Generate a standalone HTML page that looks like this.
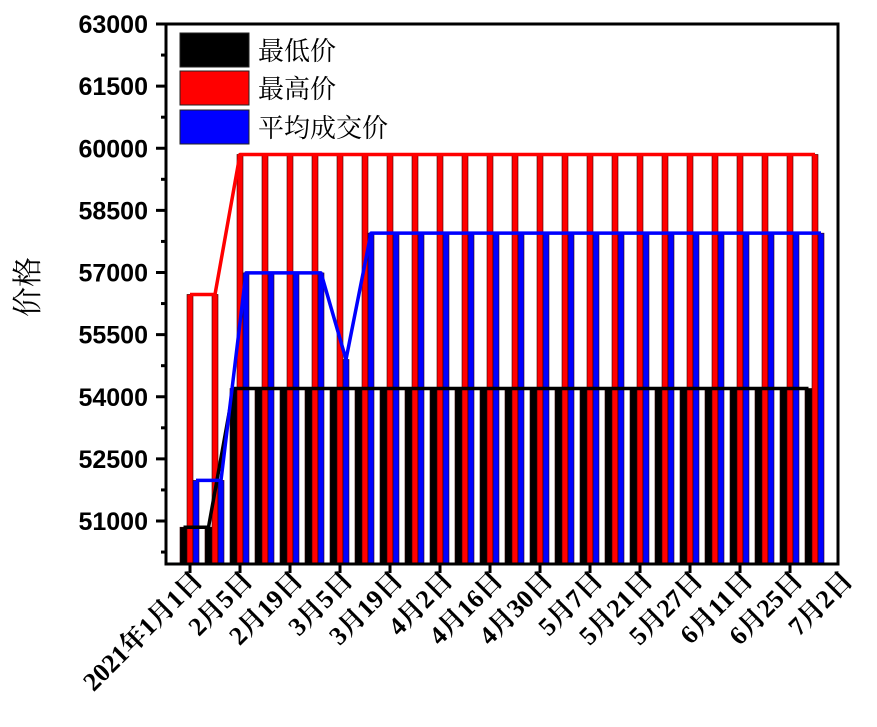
<!DOCTYPE html>
<html><head><meta charset="utf-8"><style>
html,body{margin:0;padding:0;background:#fff;}
svg{display:block;}
</style></head><body>
<svg id="chart" width="877" height="727" viewBox="0 0 877 727" xmlns="http://www.w3.org/2000/svg">
<g id="bars"></g>
<g id="lines"></g>
<g id="axes"></g>
<g id="legend">
  <rect x="180" y="33" width="69" height="34" fill="#000" stroke="#222" stroke-width="1"/>
  <text x="258" y="60" font-family="'Liberation Serif','Noto Serif CJK SC','Noto Sans CJK SC',serif" font-size="26">最低价</text>
  <rect x="180" y="71" width="69" height="34" fill="#f00" stroke="#222" stroke-width="1"/>
  <text x="258" y="98" font-family="'Liberation Serif','Noto Serif CJK SC','Noto Sans CJK SC',serif" font-size="26">最高价</text>
  <rect x="180" y="110" width="69" height="34" fill="#00f" stroke="#222" stroke-width="1"/>
  <text x="258" y="137" font-family="'Liberation Serif','Noto Serif CJK SC','Noto Sans CJK SC',serif" font-size="26">平均成交价</text>
</g>
</svg>
<script>
const lowValues = [50850,50850,54200,54200,54200,54200,54200,54200,54200,54200,54200,54200,54200,54200,54200,54200,54200,54200,54200,54200,54200,54200,54200,54200,54200,54200];
const highValues = [56470,56470,59850,59850,59850,59850,59850,59850,59850,59850,59850,59850,59850,59850,59850,59850,59850,59850,59850,59850,59850,59850,59850,59850,59850,59850];
const avgValues = [51980,51980,56990,56990,56990,56990,54900,57950,57950,57950,57950,57950,57950,57950,57950,57950,57950,57950,57950,57950,57950,57950,57950,57950,57950,57950];
const xTickLabels = ["2021年1月1日","2月5日","2月19日","3月5日","3月19日","4月2日","4月16日","4月30日","5月7日","5月21日","5月27日","6月11日","6月25日","7月2日"];
const yTicks = [51000,52500,54000,55500,57000,58500,60000,61500,63000];

const NS="http://www.w3.org/2000/svg";
const L=166,R=838,T=24,B=564;
function y(v){return 24+(63000-v)*(521-24)/12000;}
function gx(i){return 190+25*i;}
function mk(tag,attrs,parent){const e=document.createElementNS(NS,tag);for(const k in attrs)e.setAttribute(k,attrs[k]);parent.appendChild(e);return e;}
const bars=document.getElementById('bars'),lines=document.getElementById('lines'),axes=document.getElementById('axes');
const series=[{vals:lowValues,color:'#000',off:-10,w:7,name:'low'},{vals:highValues,color:'#f00',off:-3,w:6,name:'high'},{vals:avgValues,color:'#00f',off:3,w:6,name:'avg'}];
series.forEach(s=>{
  s.vals.forEach((v,i)=>{
    const x0=gx(i)+s.off;
    const r=mk('rect',{x:x0,y:y(v),width:s.w,height:B-y(v),fill:s.color,stroke:'#300',"stroke-width":0.6},bars);
    
    
  });
});
series.forEach(s=>{
  const pts=s.vals.map((v,i)=>(gx(i)+s.off+s.w/2)+','+y(v)).join(' ');
  const p=mk('polyline',{points:pts,fill:'none',stroke:s.color,"stroke-width":3.5,"stroke-linejoin":"round"},lines);
  
  
});
const fr=mk('rect',{x:L,y:T,width:R-L,height:B-T,fill:'none',stroke:'#000',"stroke-width":3},axes);


yTicks.forEach((v,i)=>{
  const t=mk('line',{x1:156,x2:L,y1:y(v),y2:y(v),stroke:'#000',"stroke-width":3},axes);
  
  
  const tx=mk('text',{x:148,y:y(v)+9,"text-anchor":"end","font-family":"'Liberation Sans',sans-serif","font-weight":"bold","font-size":"25"},axes);
  tx.textContent=v;
  
  
  if(i<yTicks.length-1){
    const m=mk('line',{x1:161,x2:L,y1:y(v+750),y2:y(v+750),stroke:'#000',"stroke-width":3},axes);
    
    
  }
});
const m0=mk('line',{x1:161,x2:L,y1:y(50250),y2:y(50250),stroke:'#000',"stroke-width":3},axes);


xTickLabels.forEach((lab,i)=>{
  const x=190+50*i;
  if(x<R){
    const t=mk('line',{x1:x,x2:x,y1:B,y2:B+9,stroke:'#000',"stroke-width":3},axes);
    
    
  }
  const tx=mk('text',{x:0,y:0,"text-anchor":"end","font-family":"'Liberation Serif','Noto Serif CJK SC',serif","font-weight":"bold","font-size":"26",transform:`translate(${x+14},${B+18}) rotate(-45)`},axes);
  tx.textContent=lab;
  
  
});
const yt=mk('text',{x:0,y:0,"text-anchor":"middle","font-family":"'Liberation Serif','Noto Serif CJK SC','Noto Sans CJK SC',serif","font-size":"30",transform:"translate(38,287) rotate(-90)"},axes);
yt.textContent='价格';


</script>
</body></html>
